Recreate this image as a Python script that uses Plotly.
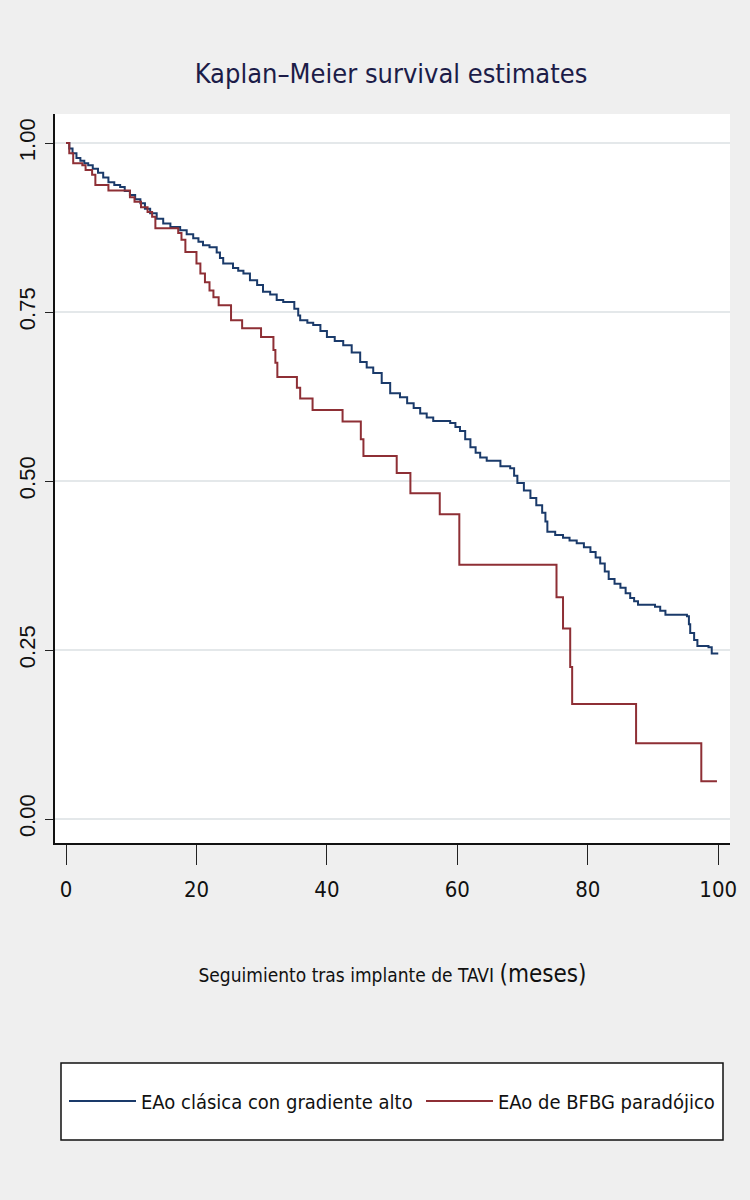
import plotly.graph_objects as go

# ---------------- data ----------------
series_names = ["EAo clásica con gradiente alto", "EAo de BFBG paradójico"]

clasica_t = [0, 0.5, 1.0, 1.6, 2.2, 2.8, 3.4, 4.1, 4.9, 5.7, 6.5, 7.4, 8.3, 9.0, 9.8,
             10.6, 11.4, 12.1, 12.9, 13.9, 14.9, 16.0, 17.5, 18.5, 19.5, 20.3, 21.0,
             22.0, 23.1, 23.6, 24.1, 25.6, 26.4, 27.2, 28.2, 29.3, 30.2, 31.3, 32.3,
             33.3, 35.0, 35.6, 35.9, 37.0, 37.9, 39.0, 40.0, 41.2, 42.5, 43.8, 45.1,
             46.1, 47.1, 48.4, 49.7, 51.2, 52.3, 53.3, 54.3, 55.3, 56.3, 58.9, 59.7,
             60.4, 61.2, 62.0, 62.8, 63.5, 64.5, 66.6, 68.1, 68.7, 69.2, 70.2, 71.2,
             72.1, 73.0, 73.5, 73.8, 75.0, 76.2, 77.2, 78.3, 79.4, 80.4, 81.2, 81.9,
             82.6, 83.2, 84.1, 85.0, 85.8, 86.5, 87.1, 87.7, 90.3, 91.1, 91.9, 95.2,
             95.5, 95.7, 96.3, 96.8, 98.5, 99.0, 100.0]
clasica_s = [1.000, 0.992, 0.985, 0.978, 0.974, 0.970, 0.967, 0.962, 0.956, 0.949, 0.942,
             0.938, 0.935, 0.929, 0.923, 0.917, 0.911, 0.903, 0.896, 0.888, 0.881, 0.876,
             0.871, 0.865, 0.859, 0.854, 0.849, 0.846, 0.838, 0.830, 0.822, 0.815, 0.811,
             0.807, 0.797, 0.790, 0.780, 0.776, 0.768, 0.765, 0.755, 0.745, 0.738, 0.734,
             0.731, 0.722, 0.713, 0.707, 0.701, 0.690, 0.676, 0.668, 0.660, 0.645, 0.630,
             0.624, 0.615, 0.608, 0.600, 0.594, 0.589, 0.586, 0.580, 0.574, 0.562, 0.550,
             0.542, 0.535, 0.530, 0.522, 0.519, 0.508, 0.497, 0.486, 0.475, 0.464, 0.453,
             0.440, 0.425, 0.420, 0.416, 0.412, 0.408, 0.402, 0.395, 0.387, 0.378, 0.366,
             0.355, 0.348, 0.342, 0.334, 0.327, 0.322, 0.317, 0.314, 0.308, 0.302, 0.300,
             0.288, 0.275, 0.265, 0.256, 0.254, 0.245, 0.245]

paradojico_t = [0, 0.5, 1.1, 2.5, 3.0, 4.0, 4.5, 6.5, 9.8, 10.5, 11.5, 12.5, 13.2, 13.7,
                17.2, 17.7, 18.3, 20.0, 20.6, 21.3, 22.0, 22.6, 23.4, 25.3, 27.0, 29.9,
                31.8, 32.1, 32.4, 35.4, 35.9, 37.8, 42.4, 45.2, 45.6, 50.7, 52.8, 57.3,
                60.3, 75.2, 76.2, 77.3, 77.6, 87.4, 97.4, 99.8]
paradojico_s = [1.000, 0.985, 0.970, 0.967, 0.960, 0.953, 0.938, 0.930, 0.920, 0.913,
                0.905, 0.898, 0.891, 0.874, 0.867, 0.857, 0.839, 0.822, 0.807, 0.794,
                0.782, 0.772, 0.760, 0.738, 0.726, 0.713, 0.694, 0.675, 0.654, 0.638,
                0.622, 0.605, 0.588, 0.562, 0.537, 0.512, 0.482, 0.451, 0.376, 0.328,
                0.282, 0.225, 0.170, 0.112, 0.056, 0.056]

x_ticks = [0, 20, 40, 60, 80, 100]
y_ticks = [0.0, 0.25, 0.50, 0.75, 1.00]
y_ticktext = ["0.00", "0.25", "0.50", "0.75", "1.00"]
title_text = "Kaplan–Meier survival estimates"
x_title = "Seguimiento tras implante de TAVI <span style='font-size:24px'>(meses)</span>"

# ---------------- styling ----------------
NARROW = "Liberation Sans Narrow, DejaVu Sans Condensed, Arial Narrow, sans-serif"
REG = "Liberation Sans, Arial, Helvetica, sans-serif"
BG = "#efefef"
GRID = "#e4e8ea"
C_BLUE = "#1a3a6a"
C_RED = "#8e2f35"

fig = go.Figure()
fig.add_trace(go.Scatter(x=clasica_t, y=clasica_s, mode="lines", name=series_names[0],
                         legend="legend",
                         line=dict(color=C_BLUE, width=2, shape="hv")))
fig.add_trace(go.Scatter(x=paradojico_t, y=paradojico_s, mode="lines", name=series_names[1],
                         legend="legend2",
                         line=dict(color=C_RED, width=2, shape="hv")))

# plot area in pixels: left 55, right 730, top 114, bottom 843
L, R, T, B = 55, 730, 114, 843
W, H = 750, 1200
pw, ph = R - L, B - T

def px_x(p):
    return (p - L) / pw

def px_y(p):
    return (B - p) / ph

legend_common = dict(xanchor="left", yanchor="middle", y=px_y(1101),
                     bgcolor="rgba(0,0,0,0)", borderwidth=0, itemwidth=67,
                     font=dict(family=NARROW, size=20, color="#111"))

fig.update_layout(
    width=W, height=H,
    margin=dict(l=L, r=W - R, t=T, b=H - B, pad=0),
    paper_bgcolor=BG, plot_bgcolor="white",
    showlegend=True,
    title=dict(text=title_text, x=391 / W, xanchor="center", xref="container",
               y=1 - 74 / H, yanchor="middle", yref="container",
               font=dict(family=NARROW, size=27, color="#1c1c48")),
    xaxis=dict(range=[-1.69, 101.8], tickmode="array", tickvals=x_ticks,
               ticks="outside", ticklen=20, tickwidth=1.2, tickcolor="#222",
               showline=True, linecolor="#111", linewidth=1.5,
               showgrid=False, zeroline=False,
               tickfont=dict(family=NARROW, size=22, color="#111"),
               ticklabelstandoff=6,
               title=dict(text=x_title, standoff=68,
                          font=dict(family=NARROW, size=19, color="#111"))),
    yaxis=dict(range=[-0.0355, 1.043], tickmode="array", tickvals=y_ticks,
               ticktext=y_ticktext, tickangle=-90,
               ticks="outside", ticklen=8, tickwidth=1.2, tickcolor="#222",
               showline=True, linecolor="#111", linewidth=1.5,
               showgrid=True, gridcolor=GRID, gridwidth=2, zeroline=False,
               tickfont=dict(family=REG, size=22, color="#111"),
               ticklabelstandoff=1),
    legend=dict(x=px_x(64), **legend_common),
    legend2=dict(x=px_x(421), **legend_common),
    shapes=[dict(type="rect", xref="paper", yref="paper",
                 x0=px_x(61), x1=px_x(723), y0=px_y(1140), y1=px_y(1063),
                 fillcolor="white", line=dict(color="#111", width=1.5), layer="below")],
)

fig.write_html(
    "out.html",
    config={"displayModeBar": False},
    post_script="document.body.style.margin='0px';"
                "document.body.style.background='#efefef';",
)
